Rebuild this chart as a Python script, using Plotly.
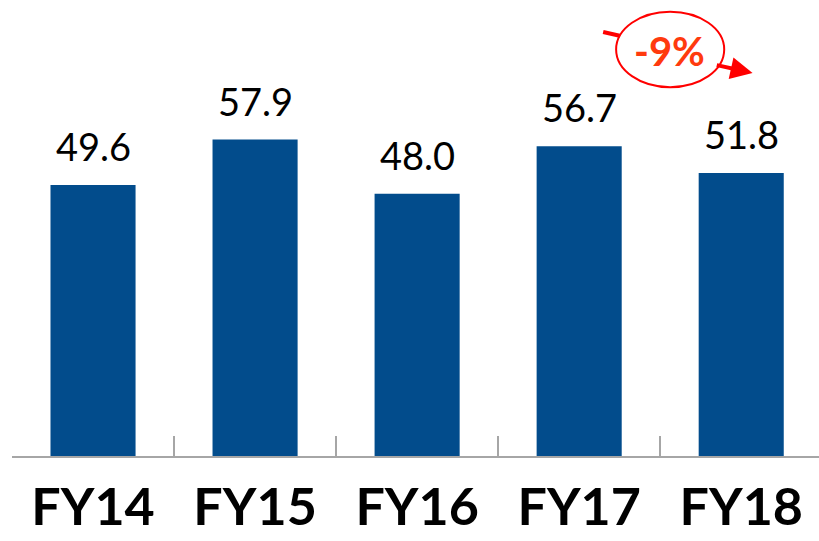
import plotly.graph_objects as go

categories = ["FY14", "FY15", "FY16", "FY17", "FY18"]
values = [49.6, 57.9, 48.0, 56.7, 51.8]
change_label = "-9%"

BAR_COLOR = "#024C8C"
AXIS_COLOR = "#A6A6A6"
RED = "#FF0000"
ORANGE_RED = "#FF3A0E"

fig = go.Figure()
fig.add_trace(go.Bar(
    x=categories, y=values,
    marker=dict(color=BAR_COLOR, line=dict(width=0)),
    hoverinfo="skip",
))

annotations = []
for c, v in zip(categories, values):
    annotations.append(dict(
        x=c, y=v, text=f"{v:.1f}", showarrow=False,
        xref="x", yref="y", yanchor="bottom", yshift=14,
        font=dict(family="Lato", size=38, color="black"),
    ))

# change callout near the last bar (data coordinates)
annotations.append(dict(
    x=3.56, y=74.1, xref="x", yref="y", text=f"<b>{change_label}</b>",
    showarrow=False, font=dict(family="Lato", size=40, color=ORANGE_RED),
))
# arrow head segment to the right of the ellipse
annotations.append(dict(
    x=4.07, y=70.1, xref="x", yref="y", ax=3.84, ay=71.6,
    axref="x", ayref="y", text="", showarrow=True,
    arrowhead=2, arrowsize=1.1, arrowwidth=4, arrowcolor=RED,
))

shapes = [
    dict(type="circle", xref="x", yref="y", x0=3.228, x1=3.895, y0=67.5, y1=81.3,
         line=dict(color=RED, width=2), fillcolor="rgba(0,0,0,0)"),
    dict(type="line", xref="x", yref="y", x0=3.148, y0=77.6, x1=3.25, y1=76.9,
         line=dict(color=RED, width=4)),
]

fig.update_layout(
    width=819, height=541,
    margin=dict(l=12, r=0, t=0, b=85, autoexpand=False),
    paper_bgcolor="white", plot_bgcolor="white",
    bargap=0.475,
    showlegend=False,
    annotations=annotations,
    shapes=shapes,
    xaxis=dict(
        range=[-0.5, 4.48],
        showline=True, linecolor=AXIS_COLOR, linewidth=2,
        ticks="inside", ticklen=20, tickwidth=2, tickcolor=AXIS_COLOR,
        tickson="boundaries", showgrid=False, zeroline=False,
        tickfont=dict(family="Lato", size=52, color="black", weight="bold"),
        ticklabelstandoff=5, automargin=False,
        fixedrange=True,
    ),
    yaxis=dict(range=[0, 83.45], visible=False, showgrid=False, zeroline=False,
               fixedrange=True, automargin=False),
)

fig.write_html(
    "out.html",
    config={"displayModeBar": False},
    post_script="document.body.style.margin='0';document.body.style.padding='0';",
)
